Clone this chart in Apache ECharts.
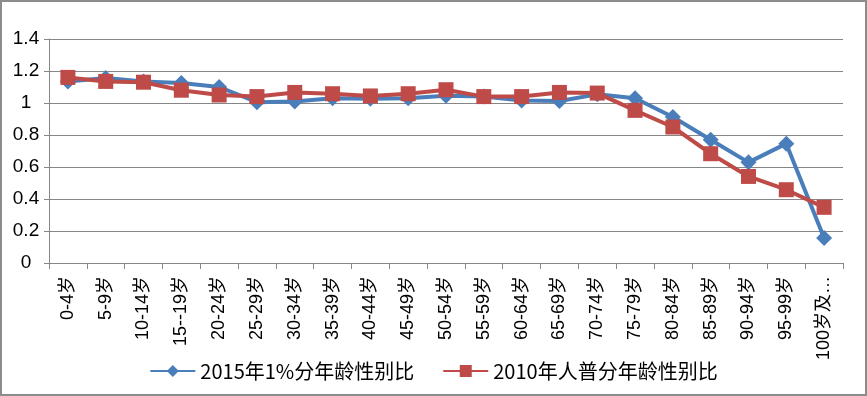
<!DOCTYPE html>
<html><head><meta charset="utf-8">
<script src="https://cdn.jsdelivr.net/npm/echarts@6/dist/echarts.min.js"></script>
<style>html,body{margin:0;padding:0;background:#fff}#c{width:867px;height:396px;box-sizing:border-box;border:2px solid #8c8c8c}</style>
</head><body><div id="c"></div>
<script>
const categories = ['0-4岁','5-9岁','10-14岁','15--19岁','20-24岁','25-29岁','30-34岁','35-39岁','40-44岁','45-49岁','50-54岁','55-59岁','60-64岁','65-69岁','70-74岁','75-79岁','80-84岁','85-89岁','90-94岁','95-99岁','100岁及以上'];
const series2015 = [1.135,1.156,1.135,1.125,1.10,1.005,1.01,1.03,1.027,1.03,1.046,1.04,1.016,1.013,1.054,1.03,0.912,0.77,0.629,0.746,0.156];
const series2010 = [1.16,1.135,1.13,1.08,1.05,1.04,1.066,1.058,1.044,1.058,1.083,1.04,1.04,1.066,1.062,0.954,0.85,0.683,0.541,0.458,0.348];
const yTicks = [0,0.2,0.4,0.6,0.8,1,1.2,1.4];
const names = ['2015年1%分年龄性别比','2010年人普分年龄性别比'];
const chart = echarts.init(document.getElementById('c'));
const font = '"Liberation Sans","Noto Sans CJK SC",sans-serif';
chart.setOption({
  animation:false,
  textStyle:{fontFamily:font},
  grid:{left:47,right:22,top:37,bottom:131,containLabel:false,outerBoundsMode:'none'},
  legend:{top:354,left:'center',itemWidth:45,itemHeight:15,itemGap:28,
    textStyle:{fontSize:20,color:'#000',fontFamily:'"Noto Sans CJK SC",sans-serif'},
    data:[names[0],names[1]]},
  xAxis:{type:'category',data:categories,boundaryGap:true,
    axisLine:{lineStyle:{color:'#868686',width:1}},
    axisTick:{show:true,length:6,lineStyle:{color:'#868686'}},
    axisLabel:{rotate:90,interval:0,fontSize:18,color:'#000',margin:13,width:95,overflow:'truncate',ellipsis:'…',
      fontFamily:font}},
  yAxis:{type:'value',min:0,max:1.4,interval:0.2,
    axisLine:{show:true,lineStyle:{color:'#868686'}},
    axisTick:{show:true,length:5,lineStyle:{color:'#868686'}},
    splitLine:{lineStyle:{color:'#868686',width:1}},
    axisLabel:{fontSize:19,color:'#000',margin:23,align:'center',
      formatter:v=>{const t=yTicks.find(x=>Math.abs(x-v)<1e-6);return t===undefined?'':String(t);}}},
  series:[
    {name:names[0],type:'line',data:series2015,symbol:'diamond',symbolSize:16,
      lineStyle:{color:'#4A7EBB',width:4},itemStyle:{color:'#4A7EBB'}},
    {name:names[1],type:'line',data:series2010,symbol:'rect',symbolSize:15,
      lineStyle:{color:'#BE4B48',width:4},itemStyle:{color:'#BE4B48'}}
  ]
});
</script></body></html>
